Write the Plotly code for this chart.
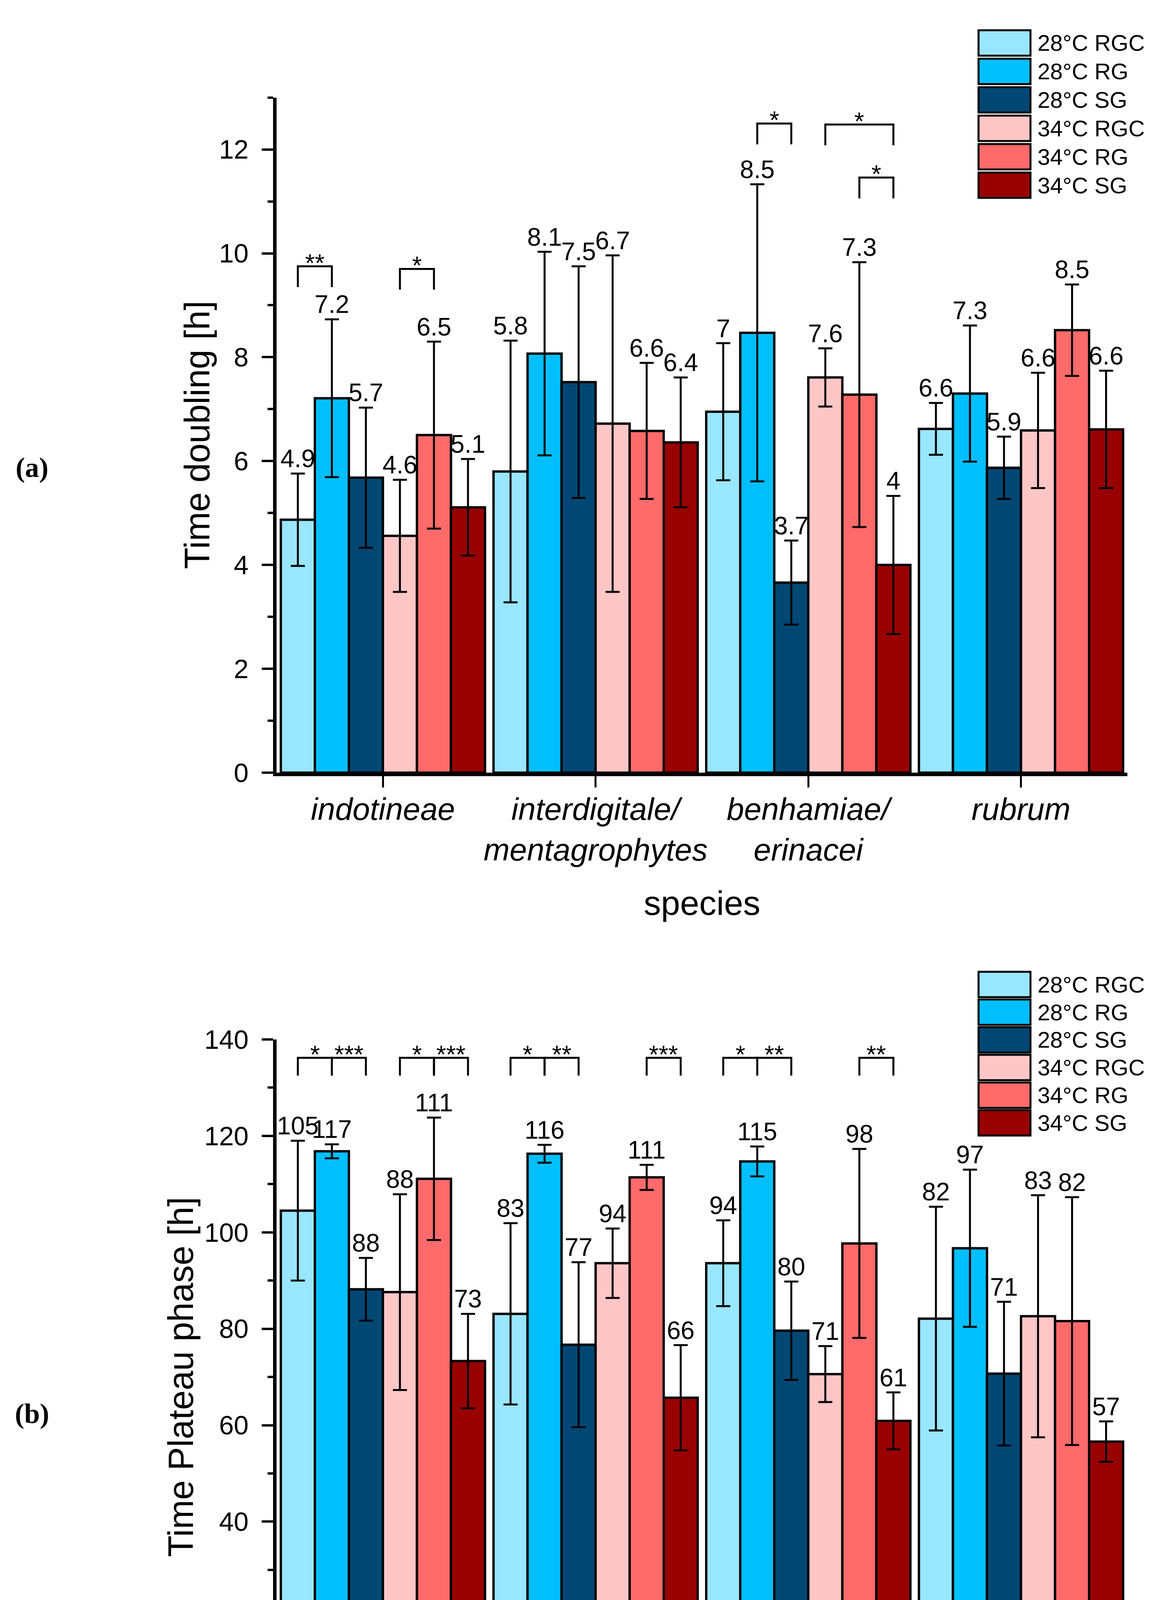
import plotly.graph_objects as go
from plotly.subplots import make_subplots

W, H = 2967, 4806
FONT = "Liberation Sans, Arial, sans-serif"

species = ["<i>indotineae</i>", "<i>interdigitale/</i><br><i>mentagrophytes</i>",
           "<i>benhamiae/</i><br><i>erinacei</i>", "<i>rubrum</i>"]
conditions = ["28°C RGC", "28°C RG", "28°C SG", "34°C RGC", "34°C RG", "34°C SG"]
colours = ["#99E6FF", "#00BFFF", "#004774", "#FFC6C6", "#FF6A6A", "#990000"]

# (a) doubling time, one row per condition, one column per species
doubling_mean = [[4.87, 5.80, 6.95, 6.62],
                 [7.21, 8.07, 8.47, 7.30],
                 [5.68, 7.52, 3.66, 5.87],
                 [4.56, 6.72, 7.61, 6.59],
                 [6.50, 6.58, 7.28, 8.52],
                 [5.11, 6.36, 4.00, 6.61]]
doubling_err = [[0.89, 2.52, 1.32, 0.50],
                [1.52, 1.96, 2.86, 1.31],
                [1.35, 2.23, 0.81, 0.60],
                [1.08, 3.24, 0.56, 1.11],
                [1.80, 1.31, 2.55, 0.88],
                [0.93, 1.25, 1.33, 1.13]]
doubling_labels = [["4.9", "5.8", "7", "6.6"],
                   ["7.2", "8.1", "8.5", "7.3"],
                   ["5.7", "7.5", "3.7", "5.9"],
                   ["4.6", "6.7", "7.6", "6.6"],
                   ["6.5", "6.6", "7.3", "8.5"],
                   ["5.1", "6.4", "4", "6.6"]]

# (b) plateau phase
plateau_mean = [[104.5, 83.1, 93.6, 82.1],
                [116.8, 116.3, 114.7, 96.7],
                [88.2, 76.7, 79.6, 70.7],
                [87.6, 93.6, 70.6, 82.6],
                [111.1, 111.4, 97.7, 81.6],
                [73.3, 65.7, 60.9, 56.6]]
plateau_err = [[14.5, 18.8, 8.9, 23.2],
               [1.45, 1.85, 3.1, 16.3],
               [6.5, 17.1, 10.2, 14.9],
               [20.3, 7.2, 5.8, 25.1],
               [12.7, 2.6, 19.6, 25.7],
               [9.8, 10.9, 5.9, 4.2]]
plateau_labels = [["105", "83", "94", "82"],
                  ["117", "116", "115", "97"],
                  ["88", "77", "80", "71"],
                  ["88", "94", "71", "83"],
                  ["111", "111", "98", "82"],
                  ["73", "66", "61", "57"]]

# significance brackets: (species, first bar, second bar, height, stars)
doubling_sig = [(0, 0, 1, 9.75, "**"), (0, 3, 4, 9.70, "*"),
                (2, 1, 2, 12.50, "*"), (2, 3, 5, 12.48, "*"), (2, 4, 5, 11.46, "*")]
plateau_sig = [(0, 0, 1, 136.2, "*"), (0, 1, 2, 136.2, "***"),
               (0, 3, 4, 136.2, "*"), (0, 4, 5, 136.2, "***"),
               (1, 0, 1, 136.2, "*"), (1, 1, 2, 136.2, "**"), (1, 4, 5, 136.2, "***"),
               (2, 0, 1, 136.2, "*"), (2, 1, 2, 136.2, "**"), (2, 4, 5, 136.2, "**")]

BW = 0.16  # bar width in category units


def xpos(i, j):
    return i + (j - 2.5) * BW


fig = make_subplots(rows=2, cols=1)

panels = [(1, doubling_mean, doubling_err, doubling_labels, doubling_sig, 0.4),
          (2, plateau_mean, plateau_err, plateau_labels, plateau_sig, 3.7)]

for row, means, errs, labels, sigs, leg in panels:
    for j, cond in enumerate(conditions):
        xs = [xpos(i, j) for i in range(len(species))]
        fig.add_trace(go.Bar(x=xs, y=means[j], width=BW, name=cond,
                             marker=dict(color=colours[j], line=dict(color="black", width=6)),
                             error_y=dict(type="data", array=errs[j], color="black",
                                          thickness=5, width=18),
                             showlegend=False), row=row, col=1)
        tops = [m + e for m, e in zip(means[j], errs[j])]
        fig.add_trace(go.Scatter(x=xs, y=tops, mode="text", text=labels[j],
                                 textposition="top center", cliponaxis=False,
                                 textfont=dict(family=FONT, size=64, color="black"),
                                 showlegend=False, hoverinfo="skip"), row=row, col=1)
    xr = "x" if row == 1 else "x2"
    yr = "y" if row == 1 else "y2"
    for i, a, b, yt, stars in sigs:
        x1, x2 = xpos(i, a), xpos(i, b)
        fig.add_shape(type="path", xref=xr, yref=yr,
                      path=f"M {x1},{yt - leg} L {x1},{yt} L {x2},{yt} L {x2},{yt - leg}",
                      line=dict(color="black", width=5))
        fig.add_annotation(x=(x1 + x2) / 2, y=yt, xref=xr, yref=yr, text=stars,
                           showarrow=False, yanchor="bottom", yshift=-30,
                           font=dict(family=FONT, size=64, color="black"))

axis_common = dict(showline=True, linewidth=9, linecolor="black", mirror=False,
                   showgrid=False, zeroline=False, ticks="outside", tickcolor="black",
                   tickfont=dict(family=FONT, size=68, color="black"))

xdom = [700 / W, 2878 / W]
for xa in ["xaxis", "xaxis2"]:
    fig.update_layout({xa: dict(axis_common, domain=xdom, range=[-0.5, 3.5],
                                tickvals=list(range(len(species))), ticktext=species,
                                ticklen=29, tickwidth=5, ticklabelstandoff=-13,
                                tickfont=dict(family=FONT, size=80, color="black"))})

fig.update_layout(
    yaxis=dict(axis_common, domain=[1 - 1963 / H, 1 - 207 / H], range=[0, 13],
               tickvals=[0, 2, 4, 6, 8, 10, 12], ticklen=29, tickwidth=6,
               ticklabelstandoff=20,
               minor=dict(tickvals=[1, 3, 5, 7, 9, 11, 13], ticklen=14, tickwidth=6,
                          ticks="outside", tickcolor="black")),
    yaxis2=dict(axis_common, domain=[1 - 4413 / H, 1 - 2657 / H], range=[0, 140],
                tickvals=list(range(0, 141, 20)), ticklen=29, tickwidth=6,
                ticklabelstandoff=20,
                minor=dict(tickvals=list(range(10, 140, 20)), ticklen=14, tickwidth=6,
                           ticks="outside", tickcolor="black")),
)

# axis titles, panel tags
texts = [("Time doubling [h]", 497, 1085, 90, -90, FONT, False),
         ("Time Plateau phase [h]", 455, 3535, 90, -90, FONT, False),
         ("species", 1789, 2302, 88, 0, FONT, False),
         ("species", 1789, 4748, 88, 0, FONT, False),
         ("(a)", 74, 1170, 72, 0, "Liberation Serif, Times New Roman, serif", True),
         ("(b)", 74, 3630, 72, 0, "Liberation Serif, Times New Roman, serif", True)]
for t, px, py, size, ang, fam, bold in texts:
    fig.add_annotation(x=px / W, y=1 - py / H, xref="paper", yref="paper",
                       text=f"<b>{t}</b>" if bold else t, showarrow=False,
                       textangle=ang, xanchor="center", yanchor="middle",
                       font=dict(family=fam, size=size, color="black"))

# legends drawn as boxes, one per panel
for top, pitch in [(32, 74), (2481, 72)]:
    for k, cond in enumerate(conditions):
        y0 = top + k * pitch
        y1 = y0 + 66
        fig.add_shape(type="rect", xref="paper", yref="paper",
                      x0=2497 / W, x1=2630 / W, y0=1 - y1 / H, y1=1 - y0 / H,
                      fillcolor=colours[k], line=dict(color="black", width=5))
        fig.add_annotation(x=2646 / W, y=1 - (y0 + y1) / 2 / H, xref="paper", yref="paper",
                           text=cond, showarrow=False, xanchor="left", yanchor="middle",
                           font=dict(family=FONT, size=58, color="black"))

fig.update_layout(width=W, height=H, margin=dict(l=0, r=0, t=0, b=0),
                  plot_bgcolor="white", paper_bgcolor="white",
                  barmode="overlay", font=dict(family=FONT, color="black"))

fig.write_html("out.html")
